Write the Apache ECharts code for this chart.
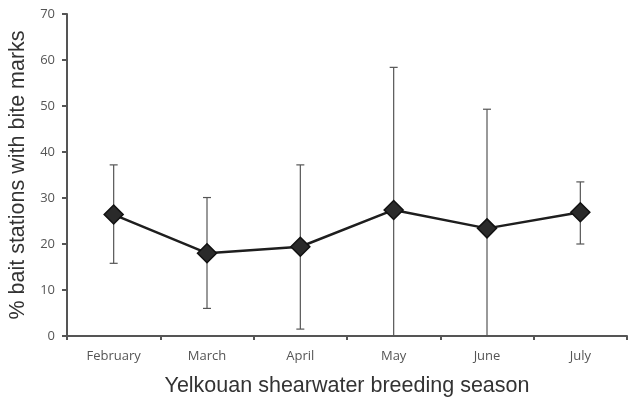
<!DOCTYPE html>
<html><head><meta charset="utf-8">
<script src="https://cdn.jsdelivr.net/npm/echarts@6/dist/echarts.min.js"></script>
<style>html,body{margin:0;padding:0;background:#fff}#c{width:630px;height:401px}</style>
</head><body><div id="c"></div>
<script>
const categories = ['February','March','April','May','June','July'];
const means = [26.4, 18.0, 19.4, 27.4, 23.4, 26.9];
const upper = [37.2, 30.1, 37.2, 58.4, 49.3, 33.5];
const lower = [15.8, 6.0, 1.5, 0, 0, 20.0];
const yTicks = [0, 10, 20, 30, 40, 50, 60, 70];

const errData = categories.map((c, i) => [i, lower[i], upper[i]]);
const chart = echarts.init(document.getElementById('c'));
chart.setOption({
  animation: false,
  backgroundColor: '#fff',
  grid: {left: 67, right: 3, top: 14, bottom: 65, containLabel: false, outerBoundsMode: 'none'},
  xAxis: {
    type: 'category', data: categories,
    name: 'Yelkouan shearwater breeding season', nameLocation: 'middle', nameGap: 39,
    nameTextStyle: {fontFamily: 'Liberation Sans', fontSize: 21.5, color: '#333'},
    axisLine: {lineStyle: {color: '#555', width: 2}},
    axisTick: {show: true, length: 4, lineStyle: {color: '#555', width: 2}},
    axisLabel: {fontFamily: 'Open Sans', fontSize: 13, color: '#555', margin: 14}
  },
  yAxis: {
    type: 'value', min: yTicks[0], max: yTicks[yTicks.length-1], interval: 10,
    name: '% bait stations with bite marks', nameLocation: 'middle', nameGap: 35,
    nameTextStyle: {fontFamily: 'Liberation Sans', fontSize: 21.5, color: '#333'},
    axisLine: {show: true, lineStyle: {color: '#555', width: 2}},
    axisTick: {show: true, length: 5, lineStyle: {color: '#555', width: 2}},
    axisLabel: {fontFamily: 'Open Sans', fontSize: 13, color: '#555', margin: 12},
    splitLine: {show: false}
  },
  series: [
    {
      type: 'custom', z: 1,
      data: errData,
      renderItem: function (params, api) {
        const x = api.value(0);
        const lo = api.coord([x, api.value(1)]);
        const hi = api.coord([x, api.value(2)]);
        const cap = 4;
        const style = {stroke: '#555', lineWidth: 1.2};
        return {type: 'group', children: [
          {type: 'line', shape: {x1: lo[0], y1: lo[1], x2: hi[0], y2: hi[1]}, style: style},
          {type: 'line', shape: {x1: hi[0]-cap, y1: hi[1], x2: hi[0]+cap, y2: hi[1]}, style: style},
          {type: 'line', shape: {x1: lo[0]-cap, y1: lo[1], x2: lo[0]+cap, y2: lo[1]}, style: style}
        ]};
      }
    },
    {
      type: 'line', z: 3, data: means,
      symbol: 'diamond', symbolSize: 19,
      lineStyle: {color: '#1e1e1e', width: 2.5},
      itemStyle: {color: '#2a2a2a', borderColor: '#111', borderWidth: 1.5}
    }
  ]
});
</script></body></html>
